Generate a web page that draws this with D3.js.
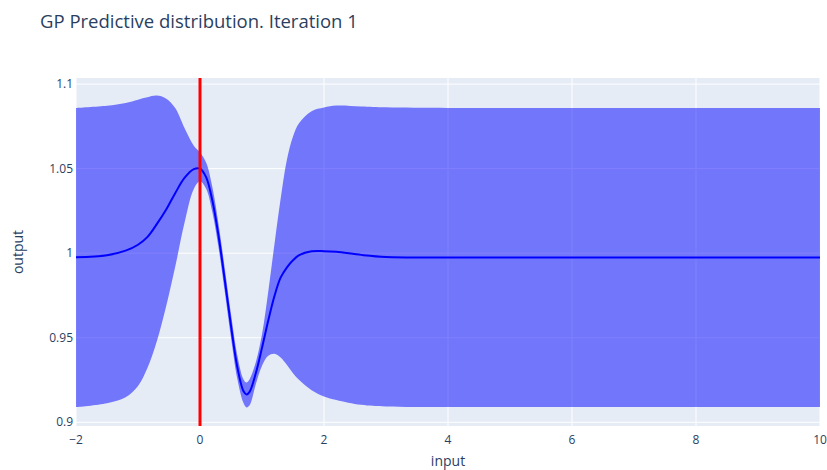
<!DOCTYPE html>
<html>
<head>
<meta charset="utf-8">
<script src="https://cdn.jsdelivr.net/npm/d3@7"></script>
<style>
  body { margin: 0; background: #fff; }
  svg { font-family: "Open Sans", verdana, arial, sans-serif; }
</style>
</head>
<body>
<div id="chart"></div>
<script>
// DATA
const xs = [-2, -1.5, -1.2, -1.0, -0.85, -0.7, -0.55, -0.4, -0.25, -0.1, 0, 0.1, 0.2, 0.3, 0.4, 0.5, 0.6, 0.7, 0.75, 0.8, 0.9, 1.0, 1.1, 1.2, 1.3, 1.4, 1.5, 1.6, 1.8, 2.0, 2.2, 2.6, 3.0, 4, 6, 8, 10];
const meanVals = [0.9976, 0.9988, 1.0015, 1.005, 1.0095, 1.017, 1.0255, 1.0355, 1.0445, 1.0497, 1.05, 1.0448, 1.031, 1.01, 0.984, 0.957, 0.933, 0.9185, 0.9165, 0.918, 0.929, 0.944, 0.96, 0.9745, 0.9855, 0.9915, 0.9958, 0.9988, 1.0011, 1.0012, 1.0008, 0.999, 0.9978, 0.9975, 0.9975, 0.9975, 0.9975];
const upperVals = [1.0859, 1.0872, 1.0888, 1.0908, 1.0922, 1.0932, 1.0915, 1.0858, 1.074, 1.0635, 1.0595, 1.0535, 1.039, 1.017, 0.991, 0.964, 0.94, 0.9255, 0.9235, 0.9255, 0.9355, 0.952, 0.977, 1.005, 1.032, 1.055, 1.069, 1.077, 1.084, 1.0862, 1.0873, 1.0868, 1.0863, 1.0859, 1.0859, 1.0859, 1.0859];
const lowerVals = [0.909, 0.9113, 0.9148, 0.9215, 0.932, 0.9475, 0.968, 0.992, 1.018, 1.038, 1.0425, 1.038, 1.024, 1.003, 0.977, 0.95, 0.926, 0.9115, 0.9088, 0.91, 0.9225, 0.9335, 0.9393, 0.9405, 0.9383, 0.934, 0.929, 0.925, 0.919, 0.9153, 0.9132, 0.9103, 0.9093, 0.909, 0.909, 0.909, 0.909];
const queryX = 0;

const xTicks = [-2, 0, 2, 4, 6, 8, 10];
const yTicks = [0.9, 0.95, 1, 1.05, 1.1];
const yTickLabels = ["0.9", "0.95", "1", "1.05", "1.1"];

const width = 827;
const height = 470;
const margin = { top: 78, right: 7, bottom: 44, left: 76 };
const innerW = width - margin.left - margin.right;
const innerH = height - margin.top - margin.bottom;

const svg = d3
  .select("#chart")
  .append("svg")
  .attr("width", width)
  .attr("height", height);

const x = d3.scaleLinear().domain([-2, 10]).range([0, innerW]);
const y = d3.scaleLinear().domain([0.8978, 1.1036]).range([innerH, 0]);

const g = svg
  .append("g")
  .attr("transform", `translate(${margin.left},${margin.top})`);

// plot background
g.append("rect")
  .attr("width", innerW)
  .attr("height", innerH)
  .attr("fill", "#E5ECF6");

// GRID
g.selectAll("line.xgrid")
  .data(xTicks)
  .join("line")
  .attr("class", "xgrid")
  .attr("x1", (d) => x(d))
  .attr("x2", (d) => x(d))
  .attr("y1", 0)
  .attr("y2", innerH)
  .attr("stroke", "#fff")
  .attr("stroke-width", 1);

g.selectAll("line.ygrid")
  .data(yTicks)
  .join("line")
  .attr("class", "ygrid")
  .attr("x1", 0)
  .attr("x2", innerW)
  .attr("y1", (d) => y(d))
  .attr("y2", (d) => y(d))
  .attr("stroke", "#fff")
  .attr("stroke-width", 1);

const points = xs.map((v, i) => ({
  x: v,
  mean: meanVals[i],
  upper: upperVals[i],
  lower: lowerVals[i],
}));

const curve = d3.curveCatmullRom.alpha(0.5);

// CONFIDENCE BAND
const band = d3
  .area()
  .curve(curve)
  .x((d) => x(d.x))
  .y0((d) => y(d.lower))
  .y1((d) => y(d.upper));

g.append("path")
  .datum(points)
  .attr("d", band)
  .attr("fill", "rgba(0,0,255,0.5)");

// MEAN
const meanLine = d3
  .line()
  .curve(curve)
  .x((d) => x(d.x))
  .y((d) => y(d.mean));

g.append("path")
  .datum(points)
  .attr("d", meanLine)
  .attr("fill", "none")
  .attr("stroke", "#0000ff")
  .attr("stroke-width", 2);

// query point
g.append("line")
  .attr("x1", x(queryX))
  .attr("x2", x(queryX))
  .attr("y1", 0)
  .attr("y2", innerH)
  .attr("stroke", "#ff0000")
  .attr("stroke-width", 3);

// AXES LABELS
const tickColor = "#2a3f5f";

g.selectAll("text.xtick")
  .data(xTicks)
  .join("text")
  .attr("class", "xtick")
  .attr("x", (d) => x(d))
  .attr("y", innerH + 18)
  .attr("text-anchor", "middle")
  .style("font-size", "12px")
  .style("fill", tickColor)
  .text((d) => (d < 0 ? "\u2212" + Math.abs(d) : d));

g.selectAll("text.ytick")
  .data(yTicks)
  .join("text")
  .attr("class", "ytick")
  .attr("x", -3)
  .attr("y", (d) => y(d))
  .attr("dy", "0.35em")
  .attr("text-anchor", "end")
  .style("font-size", "12px")
  .style("fill", tickColor)
  .text((d, i) => yTickLabels[i]);

svg.append("text")
  .attr("x", margin.left + innerW / 2)
  .attr("y", 466)
  .attr("text-anchor", "middle")
  .style("font-size", "14px")
  .style("fill", tickColor)
  .text("input");

svg.append("text")
  .attr("transform", `translate(23,${margin.top + innerH / 2}) rotate(-90)`)
  .attr("text-anchor", "middle")
  .style("font-size", "14px")
  .style("fill", tickColor)
  .text("output");

// TITLE
svg.append("text")
  .attr("x", 40)
  .attr("y", 28)
  .style("font-size", "18.5px")
  .style("fill", tickColor)
  .text("GP Predictive distribution. Iteration 1");
</script>
</body>
</html>
